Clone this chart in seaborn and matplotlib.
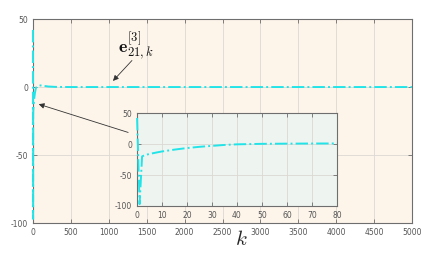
import numpy as np
import pandas as pd
import matplotlib
matplotlib.use("Agg")
import matplotlib.pyplot as plt
import seaborn as sns

# error sequence e_21,k^[3]
k_vals = [0, 1, 2, 3, 5, 8, 10, 15, 20, 25, 30, 35, 40, 50, 60, 70, 80,
          100, 150, 200, 300, 500, 1000, 2000, 3000, 4000, 5000]
e_vals = [42, -97, -20, -18, -16, -13.5, -12, -9, -6.5, -4.5, -3, -1.5, -0.5,
          0.3, 0.6, 0.8, 0.9, 1.2, 0.8, 0.4, 0.1, 0, 0, 0, 0, 0, 0]

df = pd.DataFrame({"k": k_vals, "e": e_vals})
df_zoom = df[df["k"] <= 80]

sns.set_style("ticks")
plt.rcParams["font.family"] = ["DejaVu Sans"]
plt.rcParams["mathtext.fontset"] = "cm"
plt.rcParams["axes.unicode_minus"] = False

line_col = "#22E4E8"
main_bg = "#FDF5EA"
inset_bg = "#EEF5F1"
grid_col = "#DCD8D2"
spine_col = "#6E6E6E"
tick_col = "#555555"


def style_axes(ax, bg):
    ax.set_facecolor(bg)
    ax.grid(True, color=grid_col, linewidth=0.6)
    for s in ax.spines.values():
        s.set_color(spine_col)
        s.set_linewidth(0.8)
        s.set_zorder(2)
    for ln in ax.lines:
        ln.set_zorder(3)
        ln.set_clip_on(False)
    ax.tick_params(direction="in", length=3, width=0.6, colors=spine_col,
                   labelcolor=tick_col, labelsize=5.5, top=True, right=True)
    ax.set_xlabel("")
    ax.set_ylabel("")


fig = plt.figure(figsize=(4.48, 2.54), dpi=100)
ax = fig.add_axes([0.0737, 0.122, 0.846, 0.803])
sns.lineplot(data=df, x="k", y="e", ax=ax, color=line_col, linewidth=1.4,
             linestyle="-.")
ax.set_xlim(0, 5000)
ax.set_ylim(-100, 50)
ax.set_xticks(np.arange(0, 5001, 500))
ax.set_yticks([-100, -50, 0, 50])
style_axes(ax, main_bg)
ax.set_xlabel("$k$", fontsize=15)
ax.xaxis.set_label_coords(0.55, -0.03)

ax.annotate("", xy=(1030, 3), xytext=(1330, 21),
            arrowprops=dict(arrowstyle="-|>", color="#333333", lw=0.6,
                            mutation_scale=8))
ax.annotate("", xy=(40, -12), xytext=(1290, -34),
            arrowprops=dict(arrowstyle="-|>", color="#333333", lw=0.6,
                            mutation_scale=8))
ax.text(1120, 26, r"$\mathbf{e}_{21,k}^{[3]}$", fontsize=13, color="#111111")

axin = fig.add_axes([0.306, 0.189, 0.446, 0.366])
sns.lineplot(data=df_zoom, x="k", y="e", ax=axin, color=line_col,
             linewidth=1.4, linestyle="-.")
axin.set_xlim(0, 80)
axin.set_ylim(-100, 50)
axin.set_xticks(np.arange(0, 81, 10))
axin.set_yticks([-100, -50, 0, 50])
style_axes(axin, inset_bg)

fig.savefig("out.png", dpi=100)
